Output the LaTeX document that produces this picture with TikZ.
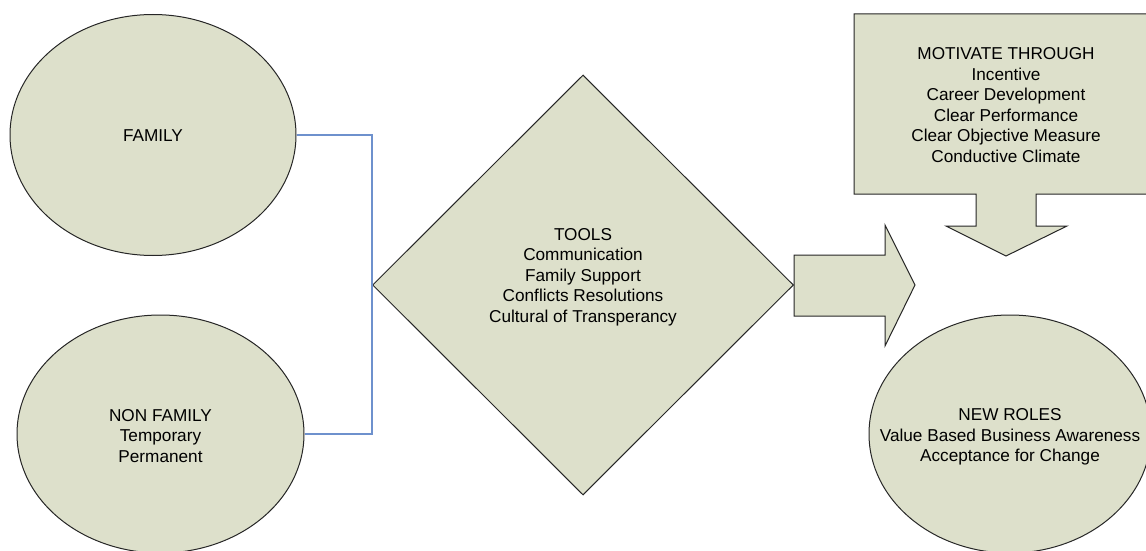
\documentclass[tikz,border=0pt]{standalone}
\usepackage{fontspec}
\setmainfont{Liberation Sans}
\usetikzlibrary{shapes.geometric}
\definecolor{sage}{RGB}{221,224,203}
\definecolor{wireblue}{RGB}{110,145,205}

\begin{document}
\begin{tikzpicture}[x=0.5pt, y=-0.5pt, font=\fontsize{8.6}{10.25}\selectfont,
  panel/.style={fill=sage, draw=black!85, line width=0.5pt},
  blob/.style={panel, ellipse, inner sep=0pt},
  lbl/.style={align=center, inner sep=0pt},
  wire/.style={draw=wireblue, line width=0.6pt}]
\useasboundingbox (0,0) rectangle (1146,551);
\clip (0,0) rectangle (1146,551);
\node[blob, minimum width=143pt, minimum height=120.5pt] (family) at (153,135) {};
\node[blob, minimum width=143.5pt, minimum height=119pt] (nonfam) at (160.5,434) {};
\node[panel, diamond, aspect=1, inner sep=0pt, minimum width=210.5pt, minimum height=210pt] (tools) at (583,285) {};
\node[blob, minimum width=141pt, minimum height=119pt] (roles) at (1010,434) {};
\draw[panel] (794,255) -- (885,255) -- (885,225) -- (915,285) -- (885,346) -- (885,316) -- (794,316) -- cycle;
\draw[panel] (854,14) -- (1158,14) -- (1158,194) -- (1036,194) -- (1036,226) -- (1067,226)
  -- (1006,256) -- (946,226) -- (976,226) -- (976,194) -- (854,194) -- cycle;
\draw[wire] (family.east) -| (tools.west) |- (nonfam.east);
\node[lbl] (familytext) at ([yshift=-0.5pt]family) {FAMILY};
\node[lbl] (nonfamtext) at ([yshift=-1pt]nonfam) {NON FAMILY\\Temporary\\Permanent};
\node[lbl] (toolstext) at (583,277) {TOOLS\\Communication\\Family Support\\Conflicts Resolutions\\Cultural of Transperancy};
\node[lbl] (rolestext) at ([yshift=-1.5pt]roles) {NEW ROLES\\Value Based Business Awareness\\Acceptance for Change};
\node[lbl] (motivtext) at (1006,105) {MOTIVATE THROUGH\\Incentive\\Career Development\\Clear Performance\\Clear Objective Measure\\Conductive Climate};
\end{tikzpicture}
\end{document}
